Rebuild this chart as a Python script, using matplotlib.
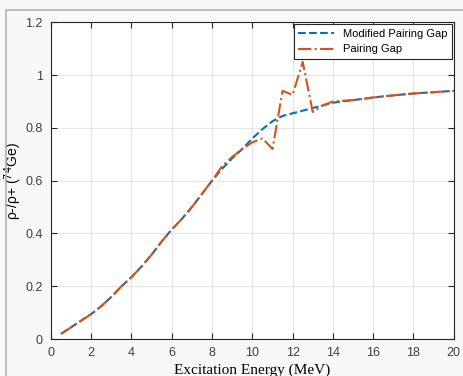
import numpy as np
import matplotlib.pyplot as plt
from matplotlib.patches import Rectangle

# Data
energy = [0.5, 1, 1.5, 2, 2.5, 3, 3.5, 4, 4.5, 5, 5.5, 6, 6.5, 7, 7.5, 8,
          8.5, 9, 9.5, 10, 10.5, 11, 11.5, 12, 12.5, 13, 13.5, 14, 15, 16,
          17, 18, 19, 20]
modified_gap = [0.02, 0.045, 0.07, 0.095, 0.125, 0.16, 0.2, 0.235, 0.275,
                0.32, 0.37, 0.415, 0.455, 0.5, 0.55, 0.6, 0.645, 0.685, 0.72,
                0.76, 0.795, 0.825, 0.845, 0.855, 0.865, 0.875, 0.885, 0.895,
                0.905, 0.915, 0.923, 0.93, 0.935, 0.94]
pairing_gap = [0.02, 0.045, 0.07, 0.095, 0.125, 0.16, 0.2, 0.235, 0.275,
               0.32, 0.37, 0.415, 0.455, 0.5, 0.55, 0.6, 0.655, 0.69, 0.72,
               0.745, 0.76, 0.72, 0.94, 0.925, 1.05, 0.86, 0.885, 0.9,
               0.905, 0.915, 0.923, 0.93, 0.935, 0.94]

fig = plt.figure(figsize=(4.63, 3.76), dpi=100, facecolor='#f8f8f8')
# frame around the whole figure (image is cropped at the bottom/right)
fig.patches.append(Rectangle((6 / 463, -0.1), 1.2, (366 + 38) / 376, transform=fig.transFigure,
                             fill=False, edgecolor='#b0b0b0', linewidth=1.2))
ax = fig.add_axes([0.110, 0.098, 0.870, 0.843])
ax.set_facecolor('white')

ax.plot(energy, modified_gap, '--', color='#0072BD', linewidth=1.5, label='Modified Pairing Gap')
ax.plot(energy, pairing_gap, '-.', color='#D95319', linewidth=1.5, label='Pairing Gap')

ax.set_xlim(0, 20)
ax.set_ylim(0, 1.2)
ax.set_xticks(np.arange(0, 21, 2))
ax.set_yticks([0, 0.2, 0.4, 0.6, 0.8, 1, 1.2])
ax.set_yticklabels(['0', '0.2', '0.4', '0.6', '0.8', '1', '1.2'])
ax.grid(True, color='#e6e6e6', linewidth=0.8)
ax.set_axisbelow(True)
ax.tick_params(direction='in', top=True, right=True, length=4, colors='#262626',
               labelcolor='#404040', labelsize=9, pad=6)
for lbl in ax.get_xticklabels() + ax.get_yticklabels():
    lbl.set_family('Liberation Sans')
for s in ax.spines.values():
    s.set_color('#262626')
    s.set_linewidth(0.8)

ax.set_xlabel('Excitation Energy (MeV)', family='Liberation Serif', fontsize=11, labelpad=3)
ax.set_ylabel(r'ρ-/ρ+ ($^{74}$Ge)', family='Liberation Sans', fontsize=10, labelpad=1)

leg = ax.legend(loc='upper right', handlelength=3.2, borderaxespad=0.2,
                fancybox=False, edgecolor='#262626', framealpha=1,
                prop={'family': 'Liberation Sans', 'size': 8})
leg.get_frame().set_linewidth(0.8)

fig.savefig('out.png', dpi=100, facecolor=fig.get_facecolor())
